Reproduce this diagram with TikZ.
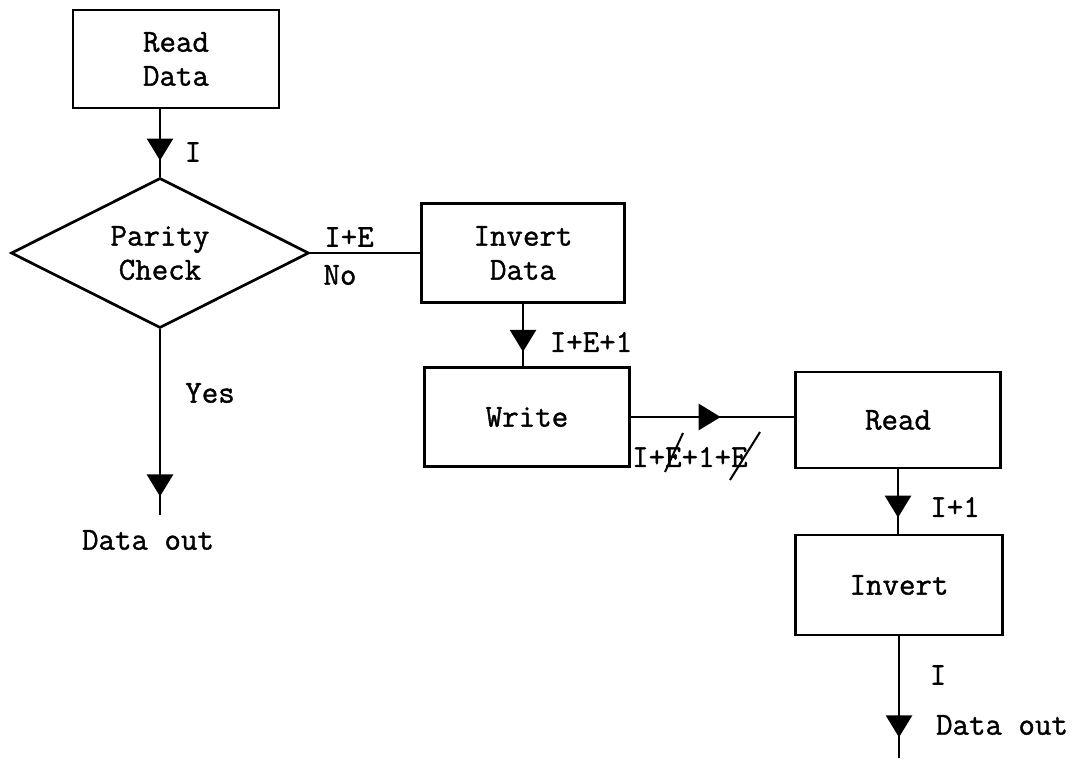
\documentclass[tikz,border=0pt]{standalone}
\usepackage{fontspec}
\newfontfamily\twfont{Latin Modern Mono}[FakeBold=1.2]
\usetikzlibrary{shapes.geometric,arrows.meta,decorations.markings}
\begin{document}
\begin{tikzpicture}[x=1pt,y=-1pt,
  every node/.style={font=\fontsize{32}{34}\selectfont\twfont},
  box/.style={draw,line width=2.7pt,inner sep=0pt,align=center},
  flow/.style={line width=2.8pt},
  midarrow/.style={postaction={decorate},decoration={markings,mark=at position #1 with {\arrow{Triangle[width=26pt,length=22pt]}}}},
  lbl/.style={inner sep=0pt},
  strike/.style={line width=2pt}]
\useasboundingbox (0,0) rectangle (1081,761);
% boxes
\node[box,minimum width=206pt,minimum height=98pt] (rd) at (176,59) {Read\\Data};
\node[diamond,draw,line width=2.7pt,minimum width=298pt,minimum height=150pt,inner sep=0pt,aspect=2,align=center] (pc) at (160,253) {Parity\\Check};
\node[box,minimum width=203pt,minimum height=99pt] (id) at (523,253) {Invert\\Data};
\node[box,minimum width=205pt,minimum height=99pt] (wr) at (527,417) {Write};
\node[box,minimum width=205pt,minimum height=96pt] (rd2) at (898,420) {Read};
\node[box,minimum width=207pt,minimum height=100pt] (inv) at (899,585) {Invert};
\coordinate (out1) at (160,515);
\coordinate (out2) at (899,758);
% connectors
\draw[flow,midarrow=0.76] (pc.north |- rd.south) -- (pc.north);
\draw[flow] (pc.east) -- (pc.east -| id.west);
\draw[flow,midarrow=0.77] (id.south) -- (id.south |- wr.north);
\draw[flow,midarrow=0.55] (wr.east) -- (wr.east -| rd2.west);
\draw[flow,midarrow=0.75] (rd2.south) -- (rd2.south |- inv.north);
\draw[flow,midarrow=0.83] (inv.south) -- (out2);
\draw[flow,midarrow=0.9] (pc.south) -- (out1);
% labels
\node[lbl] (lI) at (193,152) {I};
\node[lbl] (lIE) at (349,237) {I+E};
\node[lbl] (lNo) at (340,275) {No};
\node[lbl] (lIE1) at (591,342) {I+E+1};
\node[lbl,anchor=west] (lIE1E) at (632,457) {I+E+1+E};
\draw[strike] (665,472) -- (683,433);
\draw[strike] (730,480) -- (760,432);
\node[lbl] (lI1) at (955,507) {I+1};
\node[lbl] (lI2) at (938,675) {I};
\node[lbl] (ldo2) at (1002,725) {Data out};
\node[lbl] (lYes) at (210,393) {Yes};
\node[lbl] (ldo1) at (148,540) {Data out};
\end{tikzpicture}
\end{document}
